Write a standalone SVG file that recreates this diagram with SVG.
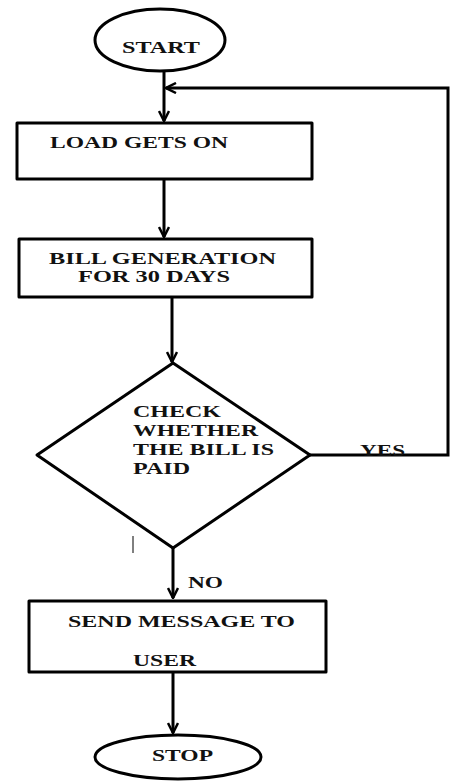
<svg xmlns="http://www.w3.org/2000/svg" width="450" height="782" viewBox="0 0 450 782">
<style>
.s{fill:#fff;stroke:#000;stroke-width:3;stroke-linejoin:round;stroke-linecap:round}
.c{fill:none;stroke:#000;stroke-width:3}
.t{font-family:"Liberation Serif","Times New Roman",serif;font-weight:bold;font-size:17px;fill:#111}
</style>
<defs>
<marker id="ar" viewBox="0 0 12 12" refX="11" refY="6" markerWidth="12" markerHeight="12" markerUnits="userSpaceOnUse" orient="auto">
<polyline points="1,1 11,6 1,11" fill="none" stroke="#000" stroke-width="2.5"/>
</marker>
</defs>
<g id="connectors">
<line class="c" x1="164" y1="71" x2="164" y2="121" marker-end="url(#ar)"/>
<polyline class="c" points="310,455 448,455 448,88 166,88" marker-end="url(#ar)"/>
<line class="c" x1="164" y1="179" x2="164" y2="237" marker-end="url(#ar)"/>
<line class="c" x1="172" y1="297" x2="172" y2="362" marker-end="url(#ar)"/>
<line class="c" x1="173" y1="548" x2="173" y2="598" marker-end="url(#ar)"/>
<line class="c" x1="173" y1="672" x2="173" y2="733" marker-end="url(#ar)"/>
<text class="t" x="360" y="456" textLength="45" lengthAdjust="spacingAndGlyphs">YES</text>
<text class="t" x="188" y="588" textLength="35" lengthAdjust="spacingAndGlyphs">NO</text>
<line x1="133" y1="536" x2="133" y2="553" stroke="#000" stroke-width="1"/>
</g>
<g id="start">
<ellipse class="s" cx="160" cy="40" rx="65" ry="31" stroke-width="2.5"/>
<text class="t" x="122" y="53" textLength="78" lengthAdjust="spacingAndGlyphs">START</text>
</g>
<g id="load">
<rect class="s" x="17" y="123" width="295" height="56"/>
<text class="t" x="50" y="148" textLength="178" lengthAdjust="spacingAndGlyphs">LOAD GETS ON</text>
</g>
<g id="bill">
<rect class="s" x="19" y="239" width="293" height="58"/>
<text class="t" x="49" y="264" textLength="227" lengthAdjust="spacingAndGlyphs">BILL GENERATION</text>
<text class="t" x="78" y="282" textLength="152" lengthAdjust="spacingAndGlyphs">FOR 30 DAYS</text>
</g>
<g id="check">
<polygon class="s" points="173,363 310,455 173,548 37,455" stroke-width="2.5"/>
<text class="t" x="133" y="417" textLength="88" lengthAdjust="spacingAndGlyphs">CHECK</text>
<text class="t" x="133" y="436" textLength="125" lengthAdjust="spacingAndGlyphs">WHETHER</text>
<text class="t" x="133" y="455" textLength="141" lengthAdjust="spacingAndGlyphs">THE BILL IS</text>
<text class="t" x="133" y="474" textLength="57" lengthAdjust="spacingAndGlyphs">PAID</text>
</g>
<g id="send">
<rect class="s" x="29" y="601" width="297" height="71"/>
<text class="t" x="68" y="627" textLength="227" lengthAdjust="spacingAndGlyphs">SEND MESSAGE TO</text>
<text class="t" x="133" y="666" textLength="63" lengthAdjust="spacingAndGlyphs">USER</text>
</g>
<g id="stop">
<ellipse class="s" cx="178" cy="757" rx="83" ry="22" stroke-width="2.5"/>
<text class="t" x="152" y="761" textLength="61" lengthAdjust="spacingAndGlyphs">STOP</text>
</g>
</svg>
